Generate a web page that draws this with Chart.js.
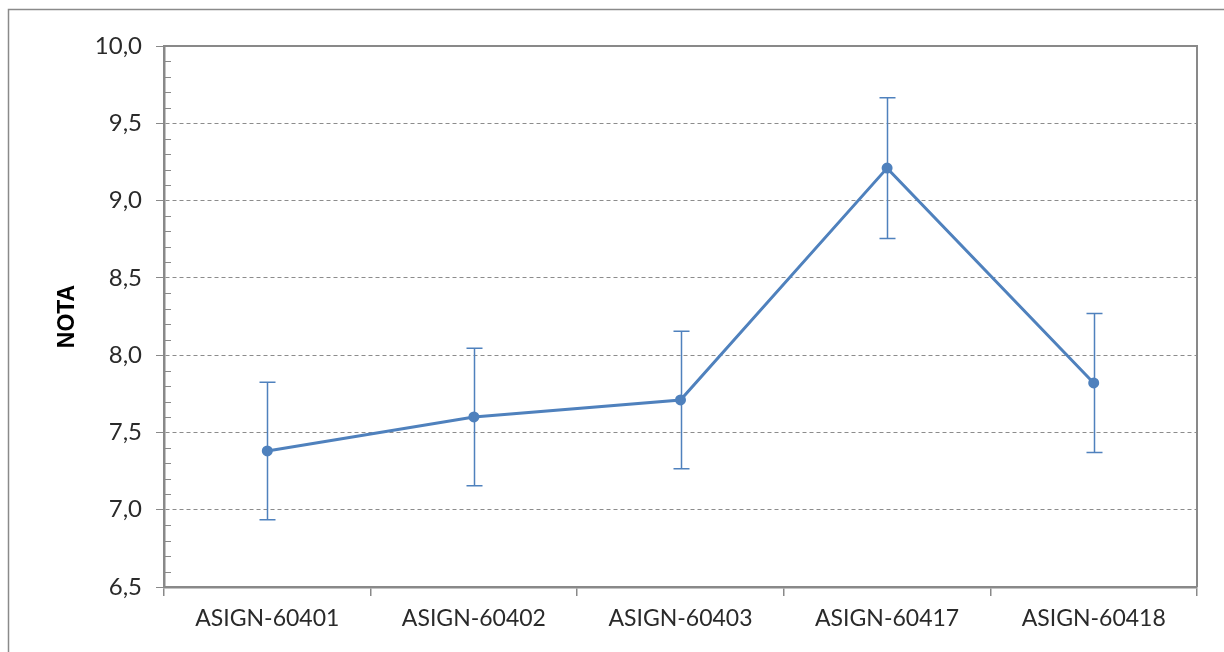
<!DOCTYPE html>
<html>
<head>
<meta charset="utf-8">
<script src="https://cdn.jsdelivr.net/npm/chart.js@4/dist/chart.umd.min.js"></script>
<style>
  html, body { margin: 0; padding: 0; background: #fff; }
  #wrap { width: 1224px; height: 652px; position: relative; }
</style>
</head>
<body>
<div id="wrap"><canvas id="notasChart"></canvas></div>
<script>
// datos
const asignaturas = ['ASIGN-60401', 'ASIGN-60402', 'ASIGN-60403', 'ASIGN-60417', 'ASIGN-60418'];
const notas = [7.38, 7.60, 7.71, 9.21, 7.82];
const errores = [0.445, 0.445, 0.445, 0.455, 0.45];
const ejeMin = 6.5;
const ejeMax = 10.0;
const paso = 0.5;

const azul = '#4f81bd';
const gris = '#898989';

// barras de error + marco + marcas menores
const extras = {
  id: 'extras',
  beforeDraw(chart) {
    const c = chart.ctx;
    c.save();
    c.strokeStyle = '#8a8a8a';
    c.lineWidth = 1.5;
    c.strokeRect(8.5, 9.5, 1300, 700);
    c.restore();
  },
  afterDraw(chart) {
    const c = chart.ctx;
    const a = chart.chartArea;
    const y = chart.scales.y;
    c.save();
    // marco del area de trazado (arriba y derecha)
    c.strokeStyle = gris;
    c.lineWidth = 2;
    c.beginPath();
    c.moveTo(a.left, a.top);
    c.lineTo(a.right, a.top);
    c.lineTo(a.right, a.bottom);
    c.stroke();
    // marcas menores hacia dentro
    c.lineWidth = 1;
    c.beginPath();
    for (let v = ejeMin; v < ejeMax - 0.001; v += 0.1) {
      const r = Math.round(v * 10) / 10;
      if (Math.abs(r / paso - Math.round(r / paso)) < 0.001) continue;
      const py = Math.round(y.getPixelForValue(r)) + 0.5;
      c.moveTo(a.left, py);
      c.lineTo(a.left + 7, py);
    }
    c.stroke();
    c.restore();
  },
  afterDatasetsDraw(chart) {
    const c = chart.ctx;
    const y = chart.scales.y;
    const x = chart.scales.x;
    c.save();
    c.strokeStyle = azul;
    c.lineWidth = 1.5;
    notas.forEach((v, i) => {
      const px = Math.round(x.getPixelForValue(i)) + 0.5;
      const top = y.getPixelForValue(v + errores[i]);
      const bot = y.getPixelForValue(v - errores[i]);
      c.beginPath();
      c.moveTo(px, top);
      c.lineTo(px, bot);
      c.moveTo(px - 8, top);
      c.lineTo(px + 8, top);
      c.moveTo(px - 8, bot);
      c.lineTo(px + 8, bot);
      c.stroke();
    });
    c.restore();
  }
};

const ctx = document.getElementById('notasChart').getContext('2d');
new Chart(ctx, {
  type: 'line',
  data: {
    labels: asignaturas,
    datasets: [{
      label: 'Nota',
      data: notas,
      borderColor: azul,
      backgroundColor: azul,
      pointBackgroundColor: azul,
      pointBorderColor: azul,
      pointRadius: 4,
      borderWidth: 3,
      tension: 0
    }]
  },
  options: {
    responsive: true,
    maintainAspectRatio: false,
    animation: false,
    layout: { padding: { left: 10, top: 46, right: 27, bottom: 0 } },
    plugins: {
      legend: { display: false },
      tooltip: { enabled: false }
    },
    scales: {
      x: {
        offset: true,
        afterFit(scale) { scale.height = 65; },
        grid: {
          offset: true,
          drawOnChartArea: false,
          drawTicks: true,
          tickLength: 9,
          color: gris,
          lineWidth: 1.5
        },
        border: { color: gris, width: 2.5 },
        ticks: {
          color: '#2a2a2a',
          font: { family: 'Lato', size: 23 },
          padding: 9,
          maxRotation: 0
        }
      },
      y: {
        min: ejeMin,
        max: ejeMax,
        afterFit(scale) { scale.width = 154; },
        title: {
          display: true,
          text: 'NOTA',
          color: '#000',
          font: { family: 'Liberation Sans', size: 23, weight: 'bold' },
          padding: { top: 44, bottom: 0 }
        },
        grid: {
          color: '#8c8c8c',
          lineWidth: 1,
          tickLength: 8,
          tickColor: gris,
          tickBorderDash: [],
          drawTicks: true
        },
        border: { color: gris, width: 2.5, dash: [4, 3] },
        ticks: {
          stepSize: paso,
          padding: 14,
          color: '#2a2a2a',
          font: { family: 'Lato', size: 24 },
          callback: (v) => v.toFixed(1).replace('.', ',')
        }
      }
    }
  },
  plugins: [extras]
});
</script>
</body>
</html>
